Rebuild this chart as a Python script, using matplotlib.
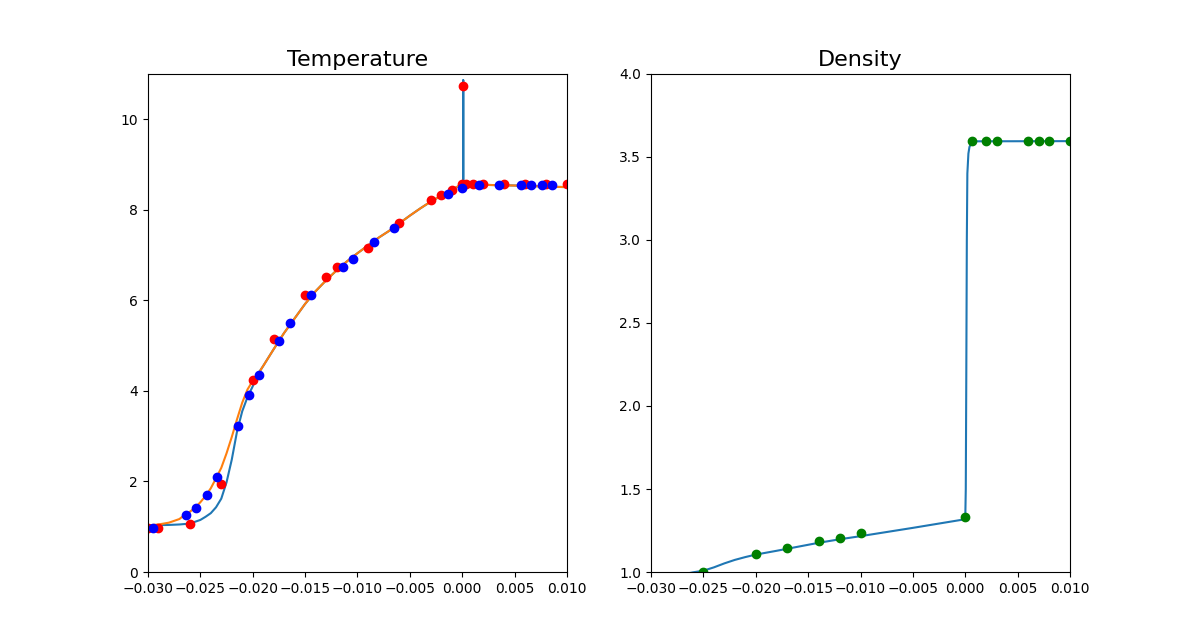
import matplotlib
matplotlib.use("Agg")
import matplotlib.pyplot as plt

# Temperature: solution curves
t_line1_x = [-0.030, -0.028, -0.027, -0.026, -0.025, -0.0245, -0.024, -0.0235, -0.023, -0.0225,
             -0.022, -0.0215, -0.021, -0.0205, -0.020, -0.0195, -0.019, -0.018, -0.017, -0.016,
             -0.015, -0.014, -0.013, -0.012, -0.011, -0.010, -0.009, -0.008, -0.007, -0.006,
             -0.005, -0.004, -0.003, -0.002, -0.001, 0.0001, 0.0001, 0.0001, 0.001, 0.002,
             0.004, 0.006, 0.008, 0.010]
t_line1_y = [1.03, 1.04, 1.05, 1.07, 1.15, 1.22, 1.30, 1.43, 1.62, 1.98,
             2.48, 3.10, 3.55, 3.86, 4.10, 4.37, 4.55, 4.92, 5.28, 5.60,
             5.92, 6.20, 6.44, 6.66, 6.86, 7.04, 7.21, 7.38, 7.53, 7.70,
             7.87, 8.03, 8.18, 8.31, 8.44, 8.57, 10.86, 8.57, 8.56, 8.55,
             8.54, 8.53, 8.51, 8.50]

t_line2_x = [-0.030, -0.029, -0.028, -0.027, -0.0265, -0.026, -0.0255, -0.025, -0.0245, -0.024,
             -0.0235, -0.023, -0.0225, -0.022, -0.0215, -0.021, -0.0205, -0.020, -0.0195, -0.019,
             -0.018, -0.017, -0.016, -0.015, -0.014, -0.013, -0.012, -0.011, -0.010, -0.009,
             -0.008, -0.007, -0.006, -0.005, -0.004, -0.003, -0.002, -0.001, 0.0, 0.001,
             0.002, 0.004, 0.006, 0.008, 0.010]
t_line2_y = [1.03, 1.05, 1.09, 1.17, 1.26, 1.33, 1.42, 1.54, 1.68, 1.85,
             2.07, 2.30, 2.62, 2.98, 3.37, 3.74, 4.03, 4.22, 4.37, 4.55,
             4.92, 5.28, 5.60, 5.92, 6.20, 6.44, 6.66, 6.86, 7.04, 7.21,
             7.38, 7.53, 7.70, 7.87, 8.03, 8.18, 8.31, 8.44, 8.57, 8.56,
             8.55, 8.54, 8.53, 8.51, 8.50]

# Temperature: measured points
t_red_x = [-0.030, -0.029, -0.026, -0.023, -0.020, -0.018, -0.015, -0.013, -0.012, -0.009,
           -0.006, -0.003, -0.002, -0.001, 0.0001, 0.0, 0.0004, 0.001, 0.002, 0.004,
           0.006, 0.008, 0.010]
t_red_y = [0.98, 0.98, 1.07, 1.94, 4.25, 5.15, 6.12, 6.52, 6.73, 7.16,
           7.70, 8.21, 8.32, 8.43, 10.73, 8.56, 8.56, 8.56, 8.56, 8.57,
           8.57, 8.57, 8.57]

t_blue_x = [-0.0295, -0.0264, -0.0254, -0.0244, -0.0234, -0.0214, -0.0204, -0.0194, -0.0175, -0.0164,
            -0.0144, -0.0114, -0.0104, -0.0084, -0.0065, -0.0014, 0.0, 0.0016, 0.0035, 0.0056,
            0.0066, 0.0076, 0.0086]
t_blue_y = [0.97, 1.26, 1.41, 1.69, 2.09, 3.23, 3.92, 4.36, 5.11, 5.50,
            6.12, 6.73, 6.92, 7.28, 7.59, 8.35, 8.49, 8.54, 8.54, 8.54,
            8.54, 8.54, 8.54]

# Density
d_line_x = [-0.0285, -0.027, -0.026, -0.025, -0.024, -0.023, -0.022, -0.021, -0.020, -0.018,
            -0.016, -0.014, -0.012, -0.010, -0.005, 0.0, 0.00005, 0.0001, 0.00015, 0.0002,
            0.0003, 0.0004, 0.0006, 0.0009, 0.010]
d_line_y = [0.96, 0.985, 0.998, 1.008, 1.028, 1.052, 1.073, 1.090, 1.105, 1.128,
            1.152, 1.176, 1.197, 1.216, 1.266, 1.318, 1.5, 2.2, 3.0, 3.40,
            3.52, 3.56, 3.585, 3.594, 3.595]

d_pts_x = [-0.025, -0.020, -0.017, -0.014, -0.012, -0.010, 0.0, 0.0006, 0.002, 0.003,
           0.006, 0.007, 0.008, 0.010]
d_pts_y = [1.00, 1.11, 1.145, 1.187, 1.205, 1.235, 1.33, 3.595, 3.595, 3.595,
           3.595, 3.595, 3.595, 3.595]

fig = plt.figure(figsize=(11.77, 6.37), dpi=100)
ax1 = fig.add_axes([0.1257, 0.102, 0.356, 0.782])
ax2 = fig.add_axes([0.5531, 0.102, 0.356, 0.782])

ax1.plot(t_line1_x, t_line1_y)
ax1.plot(t_line2_x, t_line2_y)
ax1.plot(t_red_x, t_red_y, 'ro')
ax1.plot(t_blue_x, t_blue_y, 'bo')
ax1.set_xlim(-0.03, 0.01)
ax1.set_ylim(0, 11)
ax1.set_title('Temperature', fontsize=16)

ax2.plot(d_line_x, d_line_y)
ax2.plot(d_pts_x, d_pts_y, 'go')
ax2.set_xlim(-0.03, 0.01)
ax2.set_ylim(1, 4)
ax2.set_title('Density', fontsize=16)

fig.savefig('out.png', dpi=100)
